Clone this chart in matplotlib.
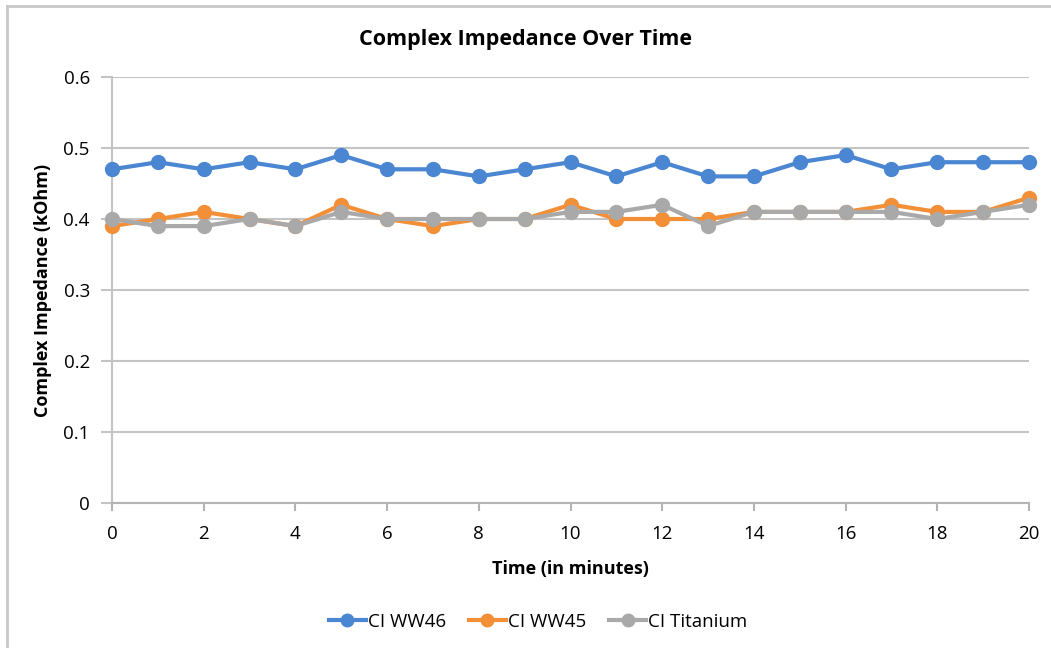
import matplotlib
matplotlib.use("Agg")
import matplotlib.pyplot as plt
from matplotlib.lines import Line2D

plt.rcParams['font.family'] = ['Open Sans', 'DejaVu Sans']

# time in minutes and impedance readings (kOhm)
minutes = list(range(21))
ci_ww46 = [0.47, 0.48, 0.47, 0.48, 0.47, 0.49, 0.47, 0.47, 0.46, 0.47, 0.48,
           0.46, 0.48, 0.46, 0.46, 0.48, 0.49, 0.47, 0.48, 0.48, 0.48]
ci_ww45 = [0.39, 0.40, 0.41, 0.40, 0.39, 0.42, 0.40, 0.39, 0.40, 0.40, 0.42,
           0.40, 0.40, 0.40, 0.41, 0.41, 0.41, 0.42, 0.41, 0.41, 0.43]
ci_titanium = [0.40, 0.39, 0.39, 0.40, 0.39, 0.41, 0.40, 0.40, 0.40, 0.40, 0.41,
               0.41, 0.42, 0.39, 0.41, 0.41, 0.41, 0.41, 0.40, 0.41, 0.42]
series_names = ["CI WW46", "CI WW45", "CI Titanium"]
colors = ["#4a86d2", "#f28f37", "#a9a9a9"]
y_ticks = [0, 0.1, 0.2, 0.3, 0.4, 0.5, 0.6]
y_labels = ["0", "0.1", "0.2", "0.3", "0.4", "0.5", "0.6"]
x_ticks = list(range(0, 21, 2))

W, H = 1051, 648
fig = plt.figure(figsize=(W / 100, H / 100), dpi=100)
ax = fig.add_axes([112 / W, 1 - 503 / H, (1029 - 112) / W, (503 - 77) / H])

for vals, name, c in zip([ci_ww46, ci_ww45, ci_titanium], series_names, colors):
    ax.plot(minutes, vals, color=c, lw=3, marker='o', ms=10, label=name,
            clip_on=False, zorder=3)

ax.set_xlim(0, 20)
ax.set_ylim(0, 0.6)
ax.set_yticks(y_ticks)
ax.set_yticklabels(y_labels)
ax.set_xticks(x_ticks)
ax.grid(axis='y', color='#c4c4c4', lw=1.5)
ax.set_axisbelow(True)
for s in ['top', 'right']:
    ax.spines[s].set_visible(False)
ax.spines['left'].set_color('#c4c4c4')
ax.spines['left'].set_linewidth(1.5)
ax.spines['bottom'].set_color('#b4b4b4')
ax.spines['bottom'].set_linewidth(1.5)
ax.tick_params(axis='y', length=8, color='#c4c4c4', width=1.5, labelsize=13.5, pad=8)
ax.tick_params(axis='x', length=6, color='#b4b4b4', width=1.5, labelsize=13.5, pad=10)

ax.set_xlabel("Time (in minutes)", fontsize=13, fontweight='bold', labelpad=12)
ax.set_ylabel("Complex Impedance (kOhm)", fontsize=13, fontweight='bold', labelpad=8)
fig.text(0.5, 1 - 40 / H, "Complex Impedance Over Time", ha='center', va='center',
         fontsize=15.5, fontweight='bold')

handles = [Line2D([], [], color=c, lw=3, marker='o', ms=9) for c in colors]
fig.legend(handles, series_names, loc='center', bbox_to_anchor=(0.512, 1 - 622 / H),
           ncol=3, frameon=False, fontsize=13.5, handlelength=2.0,
           handletextpad=0.1, columnspacing=1.2)

# chart frame on the left and top
fig.add_artist(Line2D([7 / W, 7 / W], [0, 1 - 6 / H], color='#c8c8c8', lw=2))
fig.add_artist(Line2D([7 / W, 1], [1 - 6 / H, 1 - 6 / H], color='#c8c8c8', lw=2))

fig.savefig("out.png", dpi=100)
